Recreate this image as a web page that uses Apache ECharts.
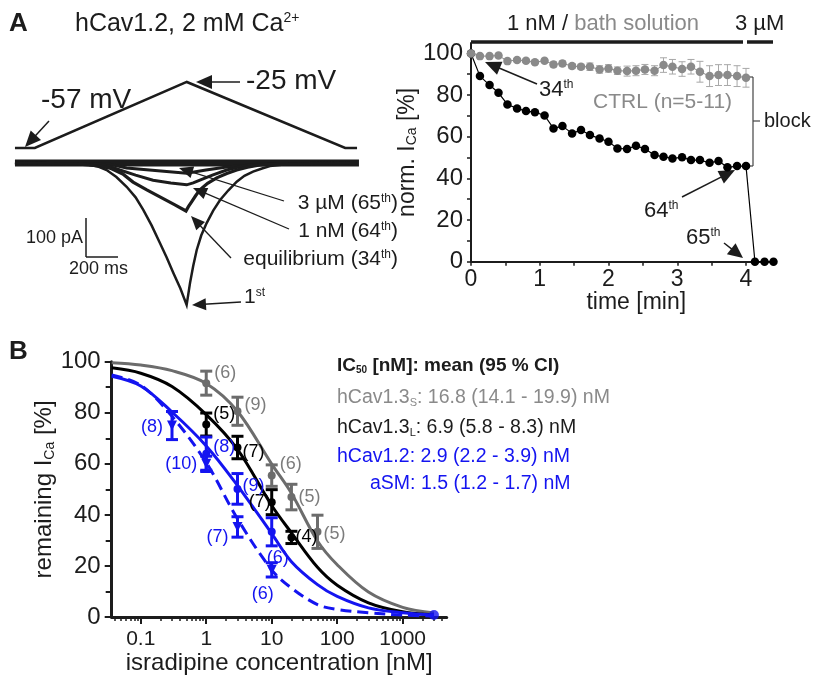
<!DOCTYPE html>
<html><head><meta charset="utf-8">
<script src="https://cdn.jsdelivr.net/npm/echarts@6/dist/echarts.min.js"></script>
<style>html,body{margin:0;padding:0;background:#fff}#c{width:819px;height:676px}</style>
</head><body><div id="c"></div><script>
// ===== Panel A (right): time course =====
const timeMin = [0,0.13,0.27,0.4,0.53,0.67,0.8,0.93,1.07,1.2,1.33,1.47,1.6,1.73,1.87,2,2.13,2.27,2.4,2.53,2.67,2.8,2.93,3.07,3.2,3.33,3.47,3.6,3.73,3.87,4.0];
const timeAfter3uM = [4.13,4.27,4.4];
const isradNorm = [100,89.1,84.8,81.1,75.5,73.6,72.3,71.8,70.2,64.0,65.1,61.6,63.2,60.8,59.2,57.6,54.4,54.1,55.7,54.1,51.2,50.4,49.6,50.1,48.8,48.8,47.5,48.3,45.3,45.9,45.9];
const isrNorm3uM = [0,0,0];
const ctrlNorm = [100,98.7,98.7,99.0,96.3,96.8,96.5,95.8,96.5,94.7,95.2,93.9,93.6,93.6,92.3,92.8,91.7,91.5,91.7,92.3,91.7,94.4,93.6,92.5,93.6,91.2,89.1,89.6,89.6,89.1,88.3];
const ctrlErr = [0,0.8,0.8,0.8,0.8,0.8,0.8,0.8,0.8,1.2,1.2,1.2,1.2,1.8,1.8,1.8,1.8,2.4,2.4,2.4,2.4,3.5,3.5,3.5,3.5,5,5,5,5,5,4.5];
const timeTickLabels = [0,1,2,3,4];
const timeTicks = [0,0.5,1,1.5,2,2.5,3,3.5,4];
const normTickLabels = [0,20,40,60,80,100];
const normTicks = [0,10,20,30,40,50,60,70,80,90,100];

// ===== Panel A (left): example traces (ms, mV / pA) =====
const rampT = [6,130,1080,2070,2144];
const rampV = [-57,-57,-25,-57,-57];
const baseT = [6,2156];
const baseI = [0,0];
const tr1stT = [6,420,475,530,579,640,704,760,808,860,912,955,996,1040,1079,1088,1100,1120,1142,1170,1204,1245,1288,1340,1392,1440,1494,1550,1600,1700,2100];
const tr1stI = [0,-1,-5,-10,-18,-36,-61,-88,-120,-160,-205,-243,-282,-322,-364,-340,-308,-264,-223,-186,-154,-122,-95,-70,-48,-33,-22,-14,-8,-3,0];
const trEqT = [6,412,520,600,680,744,830,912,1000,1075,1090,1111,1135,1162,1210,1267,1330,1392,1460,1537,1700,2100];
const trEqI = [0,-3,-7,-13,-28,-49,-69,-87,-106,-123,-112,-99,-84,-69,-52,-38,-27,-18,-11,-5,-2,0];
const tr1nMT = [6,537,600,662,760,869,980,1079,1120,1162,1240,1329,1410,1494,1700,2100];
const tr1nMI = [0,-3,-9,-18,-31,-44,-51,-56,-51,-44,-31,-18,-10,-5,-2,0];
const tr3uMT = [6,600,704,900,1079,1200,1329,1537,2100];
const tr3uMI = [0,-3,-13,-20,-26,-18,-10,-3,0];

// ===== Panel B: dose-response =====
const concTickLabels = [0.1,1,10,100,1000];
const concMinorTicks = [0.04,0.05,0.06,0.07,0.08,0.09,0.2,0.3,0.4,0.5,0.6,0.7,0.8,0.9,2,3,4,5,6,7,8,9,20,30,40,50,60,70,80,90,200,300,400,500,600,700,800,900,2000,3000,4000];
const remTickLabels = [0,20,40,60,80,100];
const curveConc = [0.036,0.1,0.3,1,3,10,20,50,100,300,1000,3000];
const fitCav13S = [99.6,98.7,96.5,91.5,80.6,59.9,48.5,29.8,20.5,9.8,3.8,1.6];
const fitCav13L = [97.6,95.5,90.3,79.3,65.7,43.7,33.0,19.5,12.5,5.6,2.1,0.9];
const fitCav12  = [94.3,90.5,80.3,67.0,51.5,32.7,21.7,12.7,8.1,3.6,1.7,0.8];
const fitASM    = [94.8,90.8,78.6,60.5,38.5,18.5,11.4,4.9,3.0,1.7,0.8,0.4];

const cav13S_conc = [1,3,10,20,50];
const cav13S_mean = [91.6,80.6,55.4,47.0,33.4];
const cav13S_err  = [4.7,5.5,4.2,5.0,6.5];
const cav13S_n    = [6,9,6,5,5];
const cav13L_conc = [1,3,10,20];
const cav13L_mean = [75.4,66.4,45.0,31.2];
const cav13L_err  = [4.5,4.4,4.9,2.4];
const cav13L_n    = [5,7,7,4];
const cav12_conc  = [1,3,10];
const cav12_mean  = [64.0,50.2,33.4];
const cav12_err   = [6.5,6.0,5.5];
const cav12_n     = [8,9,6];
const cav12_hiConc = [3000];
const cav12_hiMean = [0.8];
const asm_conc = [0.3,1,3,10];
const asm_mean = [75.0,60.0,35.3,18.5];
const asm_err  = [5.5,3.0,4.0,2.8];
const asm_n    = [8,10,7,6];

// ===== styles =====
const FONT = 'Liberation Sans, Arial, Helvetica, sans-serif';
const INK = '#1c1c1c';
const BLUE = '#1414f0';
const GRAY_B = '#6c6c6c';
const GRAY_BT = '#7c7c7c';
const GRAY_A = '#8a8a8a';

const zip = (a, b) => a.map((v, i) => [v, b[i]]);
const errData = (c, m, e) => c.map((v, i) => [v, m[i] - e[i], m[i] + e[i]]);

function errRender(capHalf, lw, color) {
  return function (params, api) {
    const x = api.value(0), lo = api.value(1), hi = api.value(2);
    const a = api.coord([x, hi]), b = api.coord([x, lo]);
    const st = { stroke: color, lineWidth: lw };
    return { type: 'group', children: [
      { type: 'line', shape: { x1: a[0], y1: a[1], x2: b[0], y2: b[1] }, style: st },
      { type: 'line', shape: { x1: a[0] - capHalf, y1: a[1], x2: a[0] + capHalf, y2: a[1] }, style: st },
      { type: 'line', shape: { x1: b[0] - capHalf, y1: b[1], x2: b[0] + capHalf, y2: b[1] }, style: st }
    ]};
  };
}

// label placements for the (n) annotations: [position, dx, dy, distance]
const placeS = [['right',0,-10,4],['right',0,-6,3],['right',0,-12,4],['right',0,0,3],['right',0,2,2]];
const placeL = [['right',0,-10,3],['right',0,5,1],['left',0,0,-3],['right',0,0,0]];
const place12 = [['right',0,-7,3],['right',0,-3,1],['bottom',6,8,5]];
const placeA = [['left',0,1,4],['left',0,0,4],['left',0,10,4],['bottom',-9,5,5]];

function nScatter(conc, mean, n, place, color, symbol, size, rot) {
  return {
    type: 'scatter', xAxisIndex: 1, yAxisIndex: 1, z: 5,
    symbol: symbol, symbolSize: size, symbolRotate: rot || 0,
    itemStyle: { color: color, opacity: 1 },
    data: conc.map((c, i) => ({
      value: [c, mean[i]],
      label: { show: true, position: place[i][0], offset: [place[i][1], place[i][2]], distance: place[i][3],
               formatter: '(' + n[i] + ')', color: color === GRAY_B ? GRAY_BT : color,
               fontSize: 18, fontFamily: FONT }
    }))
  };
}

function fitLine(y, color, dashed) {
  return { type: 'line', xAxisIndex: 1, yAxisIndex: 1, smooth: 0.35, showSymbol: false, z: 2,
    data: zip(curveConc, y), lineStyle: { color: color, width: 3, type: dashed ? [11, 6] : 'solid' } };
}

function errSeries(c, m, e, color) {
  return { type: 'custom', xAxisIndex: 1, yAxisIndex: 1, z: 4, renderItem: errRender(6, 3, color),
    encode: { x: 0, y: [1, 2] }, data: errData(c, m, e) };
}

function traceLine(t, v, width, xi, yi) {
  return { type: 'line', xAxisIndex: xi, yAxisIndex: yi, showSymbol: false, smooth: false,
    data: zip(t, v), lineStyle: { color: INK, width: width, join: 'miter' }, z: 2 };
}

// ===== graphic annotations =====
function arrow(x1, y1, x2, y2, hl, hw, w) {
  hl = hl || 15; hw = hw || 7; w = w || 1.5;
  const dx = x2 - x1, dy = y2 - y1, L = Math.hypot(dx, dy), ux = dx / L, uy = dy / L;
  const bx = x2 - ux * hl, by = y2 - uy * hl;
  return [
    { type: 'line', shape: { x1: x1, y1: y1, x2: bx + ux * 2, y2: by + uy * 2 }, style: { stroke: INK, lineWidth: w } },
    { type: 'polygon', shape: { points: [[x2, y2], [bx - uy * hw, by + ux * hw], [bx + uy * hw, by - ux * hw]] }, style: { fill: INK } }
  ];
}
function txt(x, y, text, size, opt) {
  return { type: 'text', x: x, y: y, z: 10, style: Object.assign({ text: text, fontSize: size, fontFamily: FONT,
    fill: INK, align: 'left', verticalAlign: 'middle' }, opt || {}) };
}
function ln(x1, y1, x2, y2, w, c) {
  return { type: 'line', shape: { x1: x1, y1: y1, x2: x2, y2: y2 }, style: { stroke: c || INK, lineWidth: w || 1.5 } };
}
const supRich = (sz) => ({ sup: { fontSize: sz, verticalAlign: 'top', fontFamily: FONT, fill: INK } });

const graphics = [
  txt(9, 24, 'A', 26, { fontWeight: 'bold' }),
  txt(9, 352, 'B', 26, { fontWeight: 'bold' }),
  txt(75, 24, 'hCav1.2, 2 mM Ca{s|2+}', 25, { rich: { s: { fontSize: 14, verticalAlign: 'top', fontFamily: FONT, fill: INK } } }),
  txt(41, 100, '-57 mV', 28),
  txt(246, 81, '-25 mV', 28),
  ...arrow(240, 82, 196, 82, 16, 7),
  ...arrow(49, 121, 25, 147, 16, 7),
  txt(398, 203, '3 \u00b5M (65{sup|th})', 21, { align: 'right', rich: supRich(12) }),
  txt(398, 231, '1 nM (64{sup|th})', 21, { align: 'right', rich: supRich(12) }),
  txt(398, 259, 'equilibrium (34{sup|th})', 21, { align: 'right', rich: supRich(12) }),
  txt(244, 297, '1{sup|st}', 21, { rich: supRich(12) }),
  ...arrow(284, 201, 179, 168, 14, 6, 1.3),
  ...arrow(289, 229, 193, 188, 14, 6, 1.3),
  ...arrow(231, 258, 191, 216, 14, 6, 1.3),
  ...arrow(241, 302, 192, 305, 14, 6, 1.3),
  ln(86, 218, 86, 257, 1.5), ln(86, 257, 118, 257, 1.5),
  txt(83, 238, '100 pA', 18, { align: 'right' }),
  txt(69, 269, '200 ms', 18),
  // time-course annotations
  ln(471, 42, 743, 42, 3.5), ln(747, 42, 773, 42, 3.5),
  txt(507, 24, '1 nM / {g|bath solution}', 22, { rich: { g: { fill: GRAY_A, fontSize: 22, fontFamily: FONT } } }),
  txt(735, 24, '3 \u00b5M', 22),
  txt(539, 90, '34{sup|th}', 22, { rich: supRich(12) }),
  ...arrow(537, 84, 485, 62, 16, 7),
  txt(593, 102, 'CTRL (n=5-11)', 21, { fill: GRAY_A }),
  ln(748, 77, 753, 77, 1.2, '#444'), ln(753, 77, 753, 166, 1.2, '#444'), ln(748, 166, 753, 166, 1.2, '#444'),
  ln(753, 121, 760, 121, 1.2, '#444'),
  txt(764, 121, 'block', 20),
  txt(644, 211, '64{sup|th}', 22, { rich: supRich(12) }),
  ...arrow(682, 197, 735, 170, 16, 7),
  txt(686, 238, '65{sup|th}', 22, { rich: supRich(12) }),
  ...arrow(724, 243, 743, 258, 15, 7),
  // panel B legend
  txt(337, 366, 'IC{s|50} [nM]: mean (95 % CI)', 19, { fontWeight: 'bold',
    rich: { s: { fontSize: 10, verticalAlign: 'bottom', fontWeight: 'bold', fontFamily: FONT, fill: INK } } }),
  txt(337, 398, 'hCav1.3{s|S}: 16.8 (14.1 - 19.9) nM', 19.5, { fill: '#8a8a8a',
    rich: { s: { fontSize: 11, verticalAlign: 'bottom', fontFamily: FONT, fill: '#8a8a8a' } } }),
  txt(337, 428, 'hCav1.3{s|L}: 6.9 (5.8 - 8.3) nM', 19.5, { fill: INK,
    rich: { s: { fontSize: 11, verticalAlign: 'bottom', fontFamily: FONT, fill: INK } } }),
  txt(337, 457, 'hCav1.2: 2.9 (2.2 - 3.9) nM', 19.5, { fill: BLUE }),
  txt(370, 484, 'aSM: 1.5 (1.2 - 1.7) nM', 19.5, { fill: BLUE })
];

const axisTxt = (sz) => ({ color: INK, fontSize: sz, fontFamily: FONT });
const subName = (sz) => ({ color: INK, fontSize: sz, fontFamily: FONT,
  rich: { sub: { fontSize: Math.round(sz * 0.6), verticalAlign: 'bottom', color: INK, fontFamily: FONT } } });

const option = {
  animation: false,
  backgroundColor: '#fff',
  grid: [
    { left: 471, top: 43, width: 302.5, height: 218.7 },
    { left: 111.7, top: 361.7, width: 335, height: 257.6 },
    { left: 14, top: 69.6, width: 345.6, height: 90.75 },
    { left: 14, top: 120.1, width: 345.6, height: 198.9 }
  ],
  xAxis: [
    { gridIndex: 0, type: 'value', min: 0, max: 4.4, interval: 1,
      axisLine: { lineStyle: { color: INK, width: 2 } },
      axisTick: { customValues: timeTicks, length: 4, lineStyle: { color: INK, width: 1.5 } },
      axisLabel: { customValues: timeTickLabels, margin: 6, ...axisTxt(23) },
      splitLine: { show: false },
      name: 'time [min]', nameLocation: 'middle', nameGap: 22,
      nameTextStyle: { ...axisTxt(23), padding: [0, 0, 0, 28] } },
    { gridIndex: 1, type: 'log', logBase: 10, min: 0.036, max: 4700, position: 'bottom',
      axisLine: { lineStyle: { color: INK, width: 3 } },
      axisTick: { customValues: concTickLabels, length: 7, lineStyle: { color: INK, width: 2 } },
      axisLabel: { customValues: concTickLabels, margin: 12, ...axisTxt(21),
        formatter: v => String(Number(Number(v).toPrecision(3))) },
      splitLine: { show: false },
      name: 'isradipine concentration [nM]', nameLocation: 'middle', nameGap: 31,
      nameTextStyle: axisTxt(24) },
    { gridIndex: 1, type: 'log', logBase: 10, min: 0.036, max: 4700, position: 'bottom', offset: 0,
      axisLine: { show: false },
      axisTick: { customValues: concMinorTicks, length: 4, lineStyle: { color: INK, width: 1.5 } },
      axisLabel: { show: false }, splitLine: { show: false } },
    { gridIndex: 2, type: 'value', min: 0, max: 2160, show: false },
    { gridIndex: 3, type: 'value', min: 0, max: 2160, show: false }
  ],
  yAxis: [
    { gridIndex: 0, type: 'value', min: 0, max: 105, interval: 20,
      axisLine: { show: true, lineStyle: { color: INK, width: 2 } },
      axisTick: { show: true, customValues: normTicks, length: 4, lineStyle: { color: INK, width: 1.5 } },
      axisLabel: { customValues: normTickLabels, margin: 8, ...axisTxt(24) },
      splitLine: { show: false },
      name: 'norm. I{sub|Ca} [%]', nameLocation: 'middle', nameGap: 33, nameTextStyle: subName(23) },
    { gridIndex: 1, type: 'value', min: 0, max: 100, interval: 20,
      axisLine: { show: true, lineStyle: { color: INK, width: 3 } },
      axisTick: { show: true, length: 7, lineStyle: { color: INK, width: 2 } },
      minorTick: { show: true, splitNumber: 2, length: 6, lineStyle: { color: INK, width: 2 } },
      axisLabel: { margin: 11, ...axisTxt(24) },
      splitLine: { show: false },
      name: 'remaining I{sub|Ca} [%]', nameLocation: 'middle', nameGap: 49, nameTextStyle: subName(24) },
    { gridIndex: 2, type: 'value', min: -63, max: -19, show: false },
    { gridIndex: 3, type: 'value', min: -400, max: 110, show: false }
  ],
  graphic: graphics,
  series: [
    // Panel A right
    { type: 'line', xAxisIndex: 0, yAxisIndex: 0, z: 3, data: zip(timeMin.concat(timeAfter3uM), isradNorm.concat(isrNorm3uM)),
      symbol: 'circle', symbolSize: 8.5, itemStyle: { color: '#000' }, lineStyle: { color: '#000', width: 1.2 } },
    { type: 'custom', xAxisIndex: 0, yAxisIndex: 0, z: 3, renderItem: errRender(3.5, 1, '#a8a8a8'),
      encode: { x: 0, y: [1, 2] }, data: errData(timeMin, ctrlNorm, ctrlErr) },
    { type: 'line', xAxisIndex: 0, yAxisIndex: 0, z: 4, data: zip(timeMin, ctrlNorm),
      symbol: 'circle', symbolSize: 8.5, itemStyle: { color: GRAY_A }, lineStyle: { color: GRAY_A, width: 1 } },
    // Panel A left
    traceLine(rampT, rampV, 2.5, 3, 2),
    traceLine(baseT, baseI, 7, 4, 3),
    traceLine(tr3uMT, tr3uMI, 3, 4, 3),
    traceLine(tr1nMT, tr1nMI, 3, 4, 3),
    traceLine(trEqT, trEqI, 3.2, 4, 3),
    traceLine(tr1stT, tr1stI, 2.5, 4, 3),
    // Panel B
    fitLine(fitCav13S, GRAY_B, false),
    fitLine(fitCav13L, '#000', false),
    fitLine(fitCav12, BLUE, false),
    fitLine(fitASM, BLUE, true),
    errSeries(cav13S_conc, cav13S_mean, cav13S_err, GRAY_B),
    errSeries(cav13L_conc, cav13L_mean, cav13L_err, '#000'),
    errSeries(cav12_conc, cav12_mean, cav12_err, BLUE),
    errSeries(asm_conc, asm_mean, asm_err, BLUE),
    nScatter(cav13S_conc, cav13S_mean, cav13S_n, placeS, GRAY_B, 'circle', 8),
    nScatter(cav13L_conc, cav13L_mean, cav13L_n, placeL, '#000', 'circle', 8),
    nScatter(cav12_conc, cav12_mean, cav12_n, place12, BLUE, 'circle', 8),
    nScatter(asm_conc, asm_mean, asm_n, placeA, BLUE, 'triangle', 10, 180),
    { type: 'scatter', xAxisIndex: 1, yAxisIndex: 1, z: 5, symbol: 'circle', symbolSize: 10,
      itemStyle: { color: BLUE }, data: zip(cav12_hiConc, cav12_hiMean) }
  ]
};

const chart = echarts.init(document.getElementById('c'), null, { renderer: 'canvas' });
chart.setOption(option);
</script></body></html>
